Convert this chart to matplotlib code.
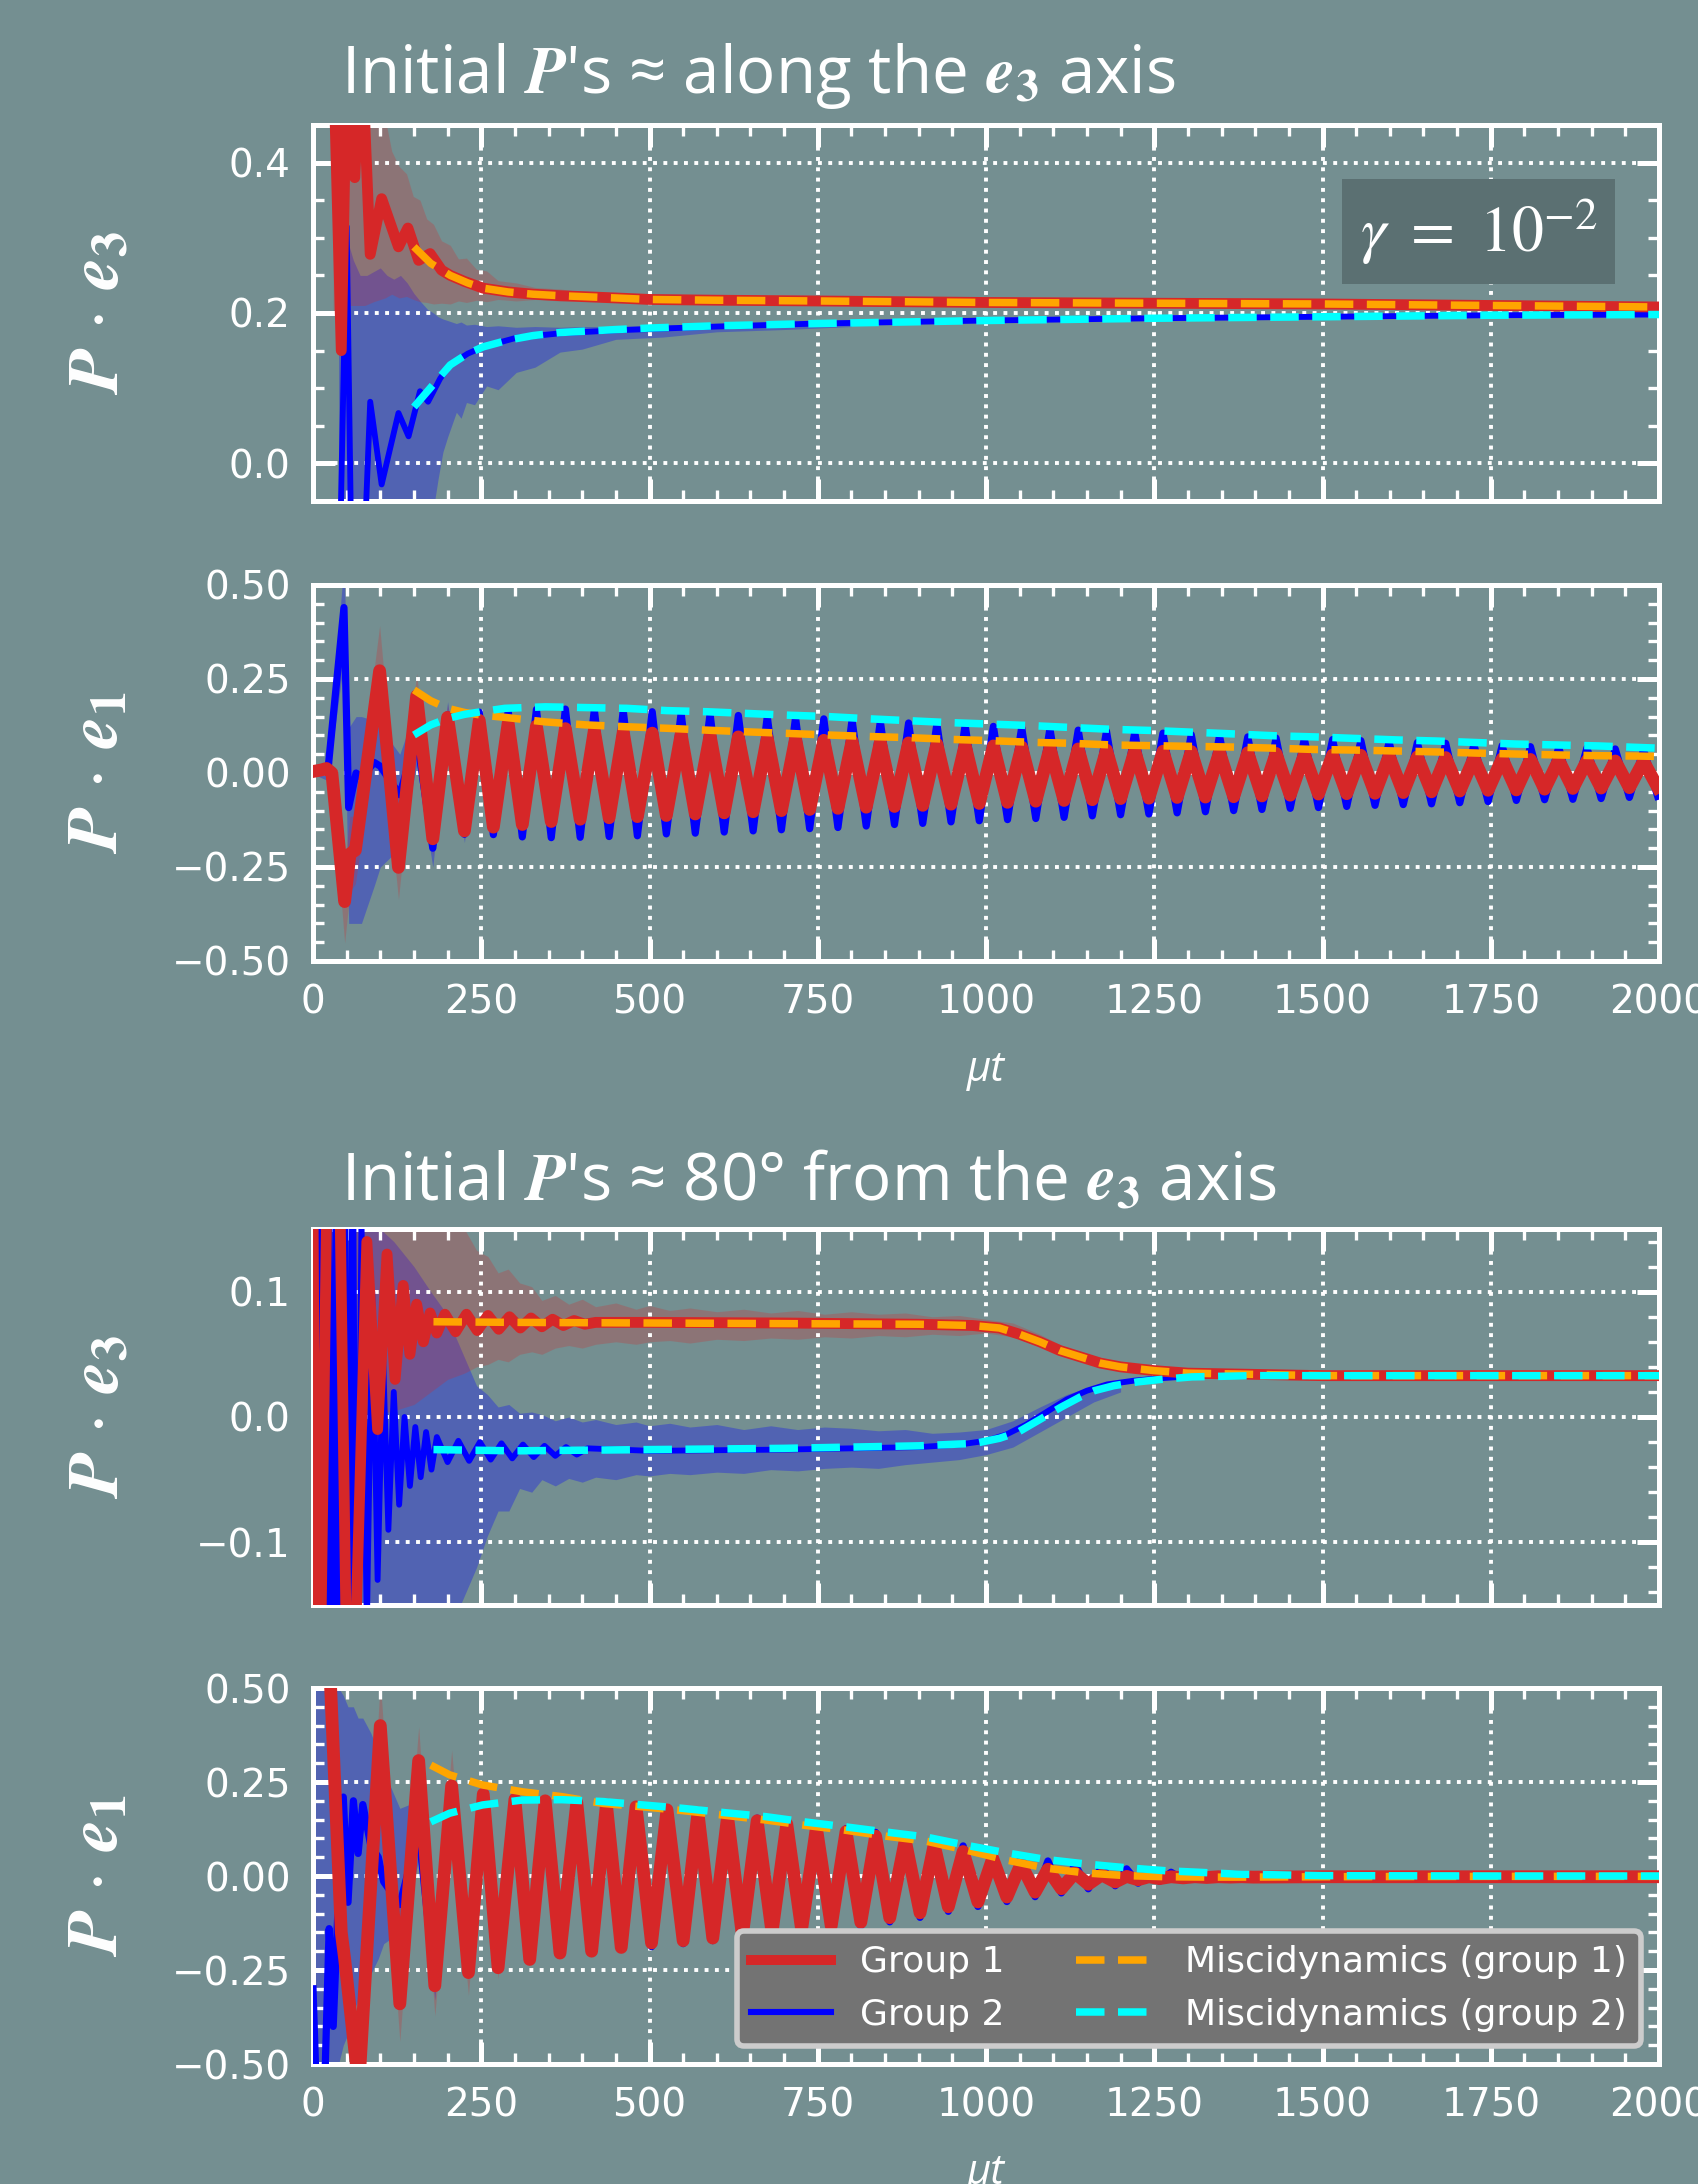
import matplotlib
matplotlib.use('Agg')
import matplotlib.pyplot as plt
import numpy as np
from matplotlib.ticker import MultipleLocator

plt.rcParams['font.family'] = 'DejaVu Sans'
plt.rcParams['mathtext.fontset'] = 'stix'

BG = '#748f91'
RED = '#d62728'
BLUE = '#0000ff'
ORANGE = '#ffa500'
CYAN = '#00ffff'

# ---------------- panel 1 : P.e3, initial P along e3 ----------------
t1_red = [28, 42, 52, 62, 72, 85, 102, 127, 141, 157, 174, 191, 204, 225, 253, 290, 327, 367,
          450, 500, 600, 750, 1000, 1250, 1500, 1750, 2000]
p1_red = [0.62, 0.15, 0.62, 0.38, 0.56, 0.278, 0.352, 0.288, 0.313, 0.27, 0.279, 0.257, 0.25,
          0.242, 0.233, 0.228, 0.225, 0.223, 0.22, 0.218, 0.217, 0.216, 0.214, 0.213, 0.212, 0.21, 0.208]
t1_blue = [40, 50, 57, 76, 85, 102, 127, 142, 159, 171, 189, 204, 230, 253, 302, 367, 450, 600,
           750, 1000, 1250, 1500, 1750, 2000]
p1_blue = [-0.12, 0.315, -0.12, -0.12, 0.082, -0.028, 0.067, 0.036, 0.096, 0.082, 0.113, 0.131,
           0.146, 0.155, 0.167, 0.173, 0.177, 0.182, 0.186, 0.19, 0.193, 0.195, 0.197, 0.198]
t1_mis = [150, 175, 204, 230, 253, 290, 327, 367, 450, 500, 600, 750, 1000, 1250, 1500, 1750, 2000]
p1_mis1 = [0.288, 0.266, 0.25, 0.24, 0.233, 0.228, 0.225, 0.223, 0.22, 0.218, 0.217, 0.216,
           0.214, 0.213, 0.212, 0.21, 0.208]
p1_mis2 = [0.075, 0.101, 0.131, 0.146, 0.155, 0.164, 0.17, 0.174, 0.178, 0.18, 0.183, 0.186,
           0.19, 0.193, 0.195, 0.197, 0.198]
t1_rband = [30, 40, 50, 62, 77, 90, 107, 117, 128, 139, 149, 159, 169, 179, 191, 204, 216, 228,
            243, 258, 275, 302, 330, 367, 400, 450, 520, 600, 700]
p1_rband_hi = [0.5, 0.5, 0.5, 0.5, 0.5, 0.48, 0.46, 0.415, 0.395, 0.385, 0.355, 0.35, 0.325, 0.318,
               0.296, 0.29, 0.272, 0.273, 0.258, 0.256, 0.243, 0.24, 0.234, 0.232, 0.228, 0.227,
               0.223, 0.221, 0.219]
p1_rband_lo = [0.2, 0.21, 0.21, 0.21, 0.21, 0.215, 0.22, 0.225, 0.22, 0.222, 0.218, 0.215, 0.214,
               0.212, 0.213, 0.212, 0.216, 0.214, 0.217, 0.215, 0.218, 0.216, 0.218, 0.216, 0.217,
               0.215, 0.214, 0.214, 0.213]
t1_bband = [38, 50, 60, 70, 80, 90, 100, 110, 120, 130, 140, 150, 160, 170, 179, 186, 193, 200,
            213, 220, 228, 240, 258, 275, 302, 330, 367, 400, 450, 520, 600, 700, 800]
p1_bband_hi = [0.3, 0.3, 0.27, 0.25, 0.25, 0.255, 0.26, 0.25, 0.245, 0.25, 0.24, 0.226, 0.215,
               0.205, 0.2, 0.195, 0.192, 0.19, 0.186, 0.188, 0.184, 0.185, 0.182, 0.183, 0.181,
               0.182, 0.181, 0.182, 0.182, 0.184, 0.186, 0.188, 0.189]
p1_bband_lo = [-0.06, -0.06, -0.06, -0.06, -0.06, -0.06, -0.06, -0.06, -0.06, -0.06, -0.06, -0.06,
               -0.06, -0.06, -0.06, -0.02, 0.015, 0.035, 0.068, 0.06, 0.081, 0.078, 0.103, 0.098,
               0.121, 0.128, 0.148, 0.152, 0.165, 0.168, 0.175, 0.178, 0.182]

# ---------------- panel 2 : P.e1, initial P along e3 ----------------
t2_red_early = [0, 12, 20, 28, 47, 55, 63, 99, 127, 154, 178, 200, 225, 247]
p2_red_early = [0.004, 0.008, 0.012, 0.0, -0.342, -0.215, -0.205, 0.272, -0.251, 0.205, -0.175,
                0.148, -0.154, 0.14]
p2_red_sd = [0.003, 0.006, 0.01, 0.03, 0.11, 0.1, 0.09, 0.12, 0.085, 0.06, 0.045, 0.035, 0.022, 0.018]
t2_blue_early = [0, 22, 46, 53, 64, 72, 91, 100, 129, 154, 178, 200, 225, 247]
p2_blue_early = [0.0, 0.004, 0.44, -0.092, 0.0, -0.012, 0.028, 0.018, -0.058, 0.10, -0.20, 0.155,
                 -0.163, 0.162]
p2_bband_lo = [-0.003, -0.02, 0.3, -0.4, -0.4, -0.4, -0.3, -0.25, -0.2, 0.02, -0.25, 0.12, -0.185, 0.15]
p2_bband_hi = [0.003, 0.03, 0.56, 0.12, 0.15, 0.15, 0.14, 0.12, 0.05, 0.18, -0.15, 0.19, -0.14, 0.175]
t2_osc = [268, 290, 311, 332, 354, 375, 397, 418, 440, 461, 482, 504, 525, 547, 568, 590, 611, 632,
          654, 675, 696, 717, 738, 759, 780, 801, 822, 843, 864, 885, 906, 927, 948, 969, 990, 1011,
          1032, 1053, 1074, 1095, 1116, 1137, 1158, 1179, 1200, 1221, 1242, 1263, 1284, 1305, 1326,
          1347, 1368, 1389, 1410, 1431, 1452, 1473, 1494, 1515, 1536, 1557, 1578, 1599, 1620, 1641,
          1662, 1683, 1704, 1725, 1746, 1767, 1788, 1809, 1830, 1851, 1872, 1893, 1914, 1935, 1956,
          1977, 1998]
p2_red_osc = [-0.144, 0.133, -0.137, 0.125, -0.129, 0.118, -0.123, 0.113, -0.119, 0.109,
              -0.116, 0.106, -0.113, 0.103, -0.109, 0.100, -0.106, 0.096, -0.103,
              0.093, -0.100, 0.091, -0.097, 0.087, -0.094, 0.085, -0.091, 0.082, -0.089,
              0.080, -0.086, 0.077, -0.083, 0.074, -0.081, 0.072, -0.078, 0.069, -0.075,
              0.066, -0.073, 0.064, -0.071, 0.061, -0.068, 0.059, -0.067, 0.058, -0.065,
              0.057, -0.064, 0.055, -0.063, 0.054, -0.061, 0.052, -0.059, 0.049, -0.056,
              0.048, -0.055, 0.047, -0.054, 0.045, -0.052, 0.043, -0.050, 0.041, -0.048,
              0.039, -0.046, 0.038, -0.045, 0.036, -0.043, 0.034, -0.041, 0.033, -0.040,
              0.032, -0.039, 0.031, -0.038]
p2_blue_osc = [-0.164, 0.166, -0.170, 0.169, -0.172, 0.170, -0.171, 0.168, -0.169, 0.166,
               -0.167, 0.163, -0.162, 0.159, -0.160, 0.157, -0.157, 0.153, -0.154,
               0.150, -0.151, 0.147, -0.148, 0.144, -0.145, 0.141, -0.141, 0.137, -0.137,
               0.133, -0.134, 0.130, -0.130, 0.127, -0.127, 0.124, -0.124, 0.121, -0.121,
               0.118, -0.118, 0.114, -0.114, 0.111, -0.111, 0.108, -0.109, 0.106, -0.106,
               0.102, -0.103, 0.099, -0.100, 0.096, -0.097, 0.093, -0.094, 0.091, -0.092,
               0.089, -0.089, 0.086, -0.086, 0.083, -0.084, 0.081, -0.082, 0.079, -0.079,
               0.076, -0.076, 0.073, -0.073, 0.070, -0.071, 0.0685, -0.070, 0.067, -0.068,
               0.064, -0.065, 0.062, -0.062]
t2_mis = [150, 175, 200, 225, 250, 285, 345, 405, 466, 525, 585, 637, 703, 766, 828, 887, 946,
          1008, 1068, 1127, 1189, 1248, 1300, 1367, 1429, 1489, 1548, 1610, 1670, 1729, 1788,
          1850, 1910, 1969, 2000]
p2_mis1 = [0.221, 0.192, 0.172, 0.161, 0.154, 0.148, 0.136, 0.128, 0.123, 0.119, 0.114, 0.110,
           0.1055, 0.101, 0.097, 0.094, 0.0895, 0.086, 0.0816, 0.079, 0.0745, 0.0727, 0.071,
           0.069, 0.066, 0.0625, 0.061, 0.0585, 0.056, 0.053, 0.0505, 0.048, 0.046, 0.045, 0.044]
p2_mis2 = [0.101, 0.128, 0.145, 0.156, 0.163, 0.172, 0.176, 0.174, 0.172, 0.166, 0.163, 0.159,
           0.154, 0.150, 0.144, 0.139, 0.134, 0.130, 0.126, 0.121, 0.116, 0.113, 0.109, 0.104,
           0.099, 0.096, 0.092, 0.088, 0.085, 0.081, 0.077, 0.0745, 0.072, 0.068, 0.066]

# ---------------- panel 3 : P.e3, initial P 80 deg from e3 ----------------
t3_red = [0, 6, 30, 54, 80, 96, 110, 122, 134, 144, 154, 164, 174, 184,
          196, 212, 228, 244, 260, 276, 292, 308, 324, 340, 356, 372, 388, 404, 420,
          500, 700, 900, 980, 1020, 1050, 1080, 1110, 1140, 1170, 1200, 1250, 1300, 1400, 1500, 2000]
p3_red = [0.174, -0.4, 0.55, -0.35, 0.14, -0.01, 0.13, 0.03, 0.105, 0.05, 0.09, 0.06, 0.083, 0.067,
          0.082, 0.068, 0.082, 0.069, 0.081, 0.07, 0.08, 0.071, 0.079, 0.072, 0.078, 0.073, 0.077,
          0.074, 0.0755,
          0.0755, 0.075, 0.074, 0.073, 0.071, 0.066, 0.06, 0.053, 0.048, 0.043, 0.04, 0.037,
          0.035, 0.034, 0.033, 0.033]
t3_blue = [0, 5, 11, 17, 23, 29, 35, 41, 47, 53, 59, 65,
           72, 80, 88, 96, 104, 112, 120, 128, 136, 144, 152, 160, 168, 176, 184,
           200, 216, 232, 248, 264, 280, 296, 312, 328, 344, 360, 376, 392, 408,
           500, 700, 900, 960, 1000, 1030, 1060, 1090, 1120, 1150, 1180, 1220, 1260, 1320, 1400,
           1500, 2000]
p3_blue = [0.17, -0.35, 0.3, -0.35, 0.3, -0.35, 0.3, -0.33, 0.28, -0.3, 0.25, -0.28,
           0.16, -0.17, 0.1, -0.13, 0.05, -0.09, 0.02, -0.07, 0.0, -0.055, -0.008, -0.048,
           -0.012, -0.042, -0.016,
           -0.036, -0.019, -0.035, -0.02, -0.034, -0.021, -0.033, -0.022, -0.032, -0.023, -0.031,
           -0.024, -0.03, -0.025,
           -0.027, -0.026, -0.024, -0.022, -0.019, -0.014, -0.006, 0.004, 0.014, 0.021, 0.026,
           0.029, 0.031, 0.033, 0.033, 0.033, 0.033]
t3_mis1 = [179, 300, 500, 700, 900, 980, 1020, 1050, 1080, 1110, 1140, 1170, 1200, 1250, 1300,
           1400, 1500, 2000]
p3_mis1 = [0.076, 0.0755, 0.075, 0.0745, 0.074, 0.073, 0.071, 0.066, 0.06, 0.053, 0.048, 0.043,
           0.04, 0.037, 0.035, 0.034, 0.033, 0.033]
t3_mis2 = [179, 300, 500, 700, 900, 984, 1020, 1048, 1080, 1112, 1140, 1161, 1190, 1225, 1260,
           1306, 1400, 1500, 2000]
p3_mis2 = [-0.026, -0.027, -0.026, -0.025, -0.023, -0.021, -0.017, -0.012, -0.002, 0.008, 0.016,
           0.021, 0.025, 0.028, 0.03, 0.032, 0.033, 0.033, 0.033]
t3_rband = [0, 40, 80, 120, 150, 175, 200, 225, 243, 260, 275, 290, 307, 325, 340, 360, 380, 400,
            420, 450, 480, 500, 530, 560, 600, 640, 680, 720, 760, 800, 840, 880, 920, 960, 1000,
            1040, 1080, 1120, 1160, 1200]
p3_rband_hi = [0.16, 0.16, 0.16, 0.16, 0.16, 0.16, 0.16, 0.15, 0.133, 0.128, 0.115, 0.118, 0.107,
               0.104, 0.093, 0.097, 0.09, 0.094, 0.088, 0.091, 0.086, 0.089, 0.085, 0.087, 0.084,
               0.086, 0.083, 0.085, 0.082, 0.084, 0.082, 0.083, 0.08, 0.081, 0.078, 0.075, 0.066,
               0.055, 0.047, 0.042]
p3_rband_lo = [-0.16, -0.1, 0.0, 0.005, 0.01, 0.02, 0.03, 0.035, 0.04, 0.042, 0.046, 0.044, 0.05,
               0.052, 0.05, 0.055, 0.057, 0.055, 0.058, 0.06, 0.058, 0.06, 0.061, 0.059, 0.062,
               0.061, 0.063, 0.062, 0.064, 0.063, 0.065, 0.064, 0.066, 0.065, 0.067, 0.064, 0.056,
               0.048, 0.041, 0.038]
t3_bband = [0, 40, 80, 120, 150, 175, 195, 211, 227, 243, 259, 275, 291, 307, 325, 340, 360, 380,
            400, 420, 450, 480, 500, 530, 560, 600, 640, 680, 720, 760, 800, 840, 880, 920, 960,
            1000, 1040, 1080, 1120, 1160, 1200]
p3_bband_hi = [0.16, 0.16, 0.16, 0.14, 0.12, 0.1, 0.085, 0.065, 0.045, 0.025, 0.018, 0.008, 0.01,
               0.003, 0.004, 0.002, -0.003, 0.0, -0.004, -0.002, -0.006, -0.004, -0.007, -0.005,
               -0.008, -0.006, -0.01, -0.007, -0.01, -0.008, -0.009, -0.011, -0.01, -0.013, -0.012,
               -0.01, -0.003, 0.008, 0.018, 0.025, 0.029]
p3_bband_lo = [-0.16, -0.16, -0.16, -0.16, -0.16, -0.16, -0.16, -0.16, -0.14, -0.12, -0.095, -0.075,
               -0.075, -0.057, -0.06, -0.05, -0.055, -0.049, -0.052, -0.048, -0.05, -0.046, -0.047,
               -0.045, -0.046, -0.044, -0.045, -0.042, -0.043, -0.041, -0.04, -0.041, -0.038,
               -0.036, -0.034, -0.03, -0.024, -0.012, 0.0, 0.012, 0.02]

# ---------------- panel 4 : P.e1, initial P 80 deg from e3 ----------------
t4_red = [0, 25, 42, 47, 68, 100, 129, 157, 181, 206, 231, 253, 275, 300, 322, 345, 367, 392, 414,
          436, 458, 480, 503, 526, 550, 572, 594, 616, 638, 660, 682, 704, 726, 748, 770, 792, 814,
          836, 857, 880, 902, 923, 944, 966, 988, 1010, 1031, 1052, 1073, 1092, 1112, 1132, 1152,
          1172, 1192, 1209, 1226, 1242, 1258, 1275, 1293, 1310, 1328, 1345, 1363, 1380, 1397,
          1500, 1750, 2000]
p4_red = [0.62, 0.55, -0.15, -0.22, -0.56, 0.40, -0.34, 0.307, -0.292, 0.24, -0.257, 0.218, -0.244,
          0.204, -0.222, 0.2, -0.205, 0.195, -0.2, 0.19, -0.19, 0.184, -0.178, 0.176, -0.172, 0.168,
          -0.165, 0.158, -0.158, 0.147, -0.15, 0.138, -0.142, 0.128, -0.133, 0.118, -0.123, 0.106,
          -0.111, 0.095, -0.098, 0.083, -0.082, 0.065, -0.069, 0.047, -0.056, 0.032, -0.043, 0.018,
          -0.034, 0.008, -0.022, 0.003, -0.016, -0.001, -0.01, -0.002, -0.007, -0.002, -0.005,
          -0.002, -0.004, -0.002, -0.003, -0.002, -0.003, -0.002, -0.002, -0.002]
p4_red_sd = [0.0, 0.05, 0.1, 0.1, 0.1, 0.12, 0.1, 0.09, 0.08, 0.095, 0.06, 0.04, 0.03, 0.02]
t4_blue_early = [0, 4, 18, 24, 30, 38, 45, 52, 60, 67, 74, 86, 97, 105, 129, 157]
p4_blue_early = [-0.30, -0.52, -0.52, -0.14, -0.40, -0.05, 0.21, -0.07, 0.20, 0.06, 0.19, 0.08,
                 0.05, -0.015, -0.076, 0.12]
p4_blue_late = [-0.29, 0.163, -0.18, 0.183, -0.19, 0.194, -0.2, 0.197, -0.2, 0.196,
                -0.2, 0.192, -0.195, 0.185, -0.188, 0.178, -0.18, 0.17, -0.172, 0.162,
                -0.166, 0.154, -0.159, 0.147, -0.151, 0.137, -0.143, 0.126, -0.133, 0.116,
                -0.122, 0.104, -0.11, 0.094, -0.094, 0.08, -0.081, 0.065, -0.068, 0.051,
                -0.055, 0.04, -0.045, 0.031, -0.034, 0.024, -0.026, 0.019, -0.019, 0.014,
                -0.014, 0.01, -0.01, 0.007, -0.007, 0.004, -0.005, 0.002, -0.004,
                -0.001, -0.001, -0.001]
t4_bband = [0, 4, 18, 24, 30, 38, 45, 52, 60, 67, 74, 86, 97, 105, 129, 157, 181, 206, 231]
p4_bband_hi = [0.5, 0.52, 0.52, 0.52, 0.5, 0.5, 0.48, 0.45, 0.45, 0.42, 0.42, 0.38, 0.33, 0.28,
               0.18, 0.2, -0.25, 0.19, -0.16]
p4_bband_lo = [-0.52, -0.52, -0.52, -0.52, -0.52, -0.5, -0.45, -0.42, -0.36, -0.33, -0.3, -0.26,
               -0.22, -0.18, -0.15, 0.04, -0.33, 0.14, -0.2]
t4_mis = [175, 203, 252, 311, 370, 431, 490, 549, 609, 672, 730, 790, 851, 910, 970, 1029, 1089,
          1148, 1208, 1267, 1327, 1372, 1500, 1750, 2000]
p4_mis1 = [0.295, 0.269, 0.242, 0.224, 0.211, 0.193, 0.184, 0.174, 0.162, 0.149, 0.135, 0.122,
           0.106, 0.093, 0.069, 0.043, 0.021, 0.008, 0.001, -0.002, -0.003, -0.003, -0.002,
           -0.001, -0.001]
p4_mis2 = [0.144, 0.167, 0.189, 0.202, 0.203, 0.198, 0.189, 0.18, 0.169, 0.158, 0.144, 0.131,
           0.117, 0.104, 0.082, 0.062, 0.044, 0.032, 0.022, 0.014, 0.009, 0.005, 0.001, 0.0, 0.0]

# ---------------- figure ----------------
W, H = 1698, 2184
fig = plt.figure(figsize=(W / 200, H / 200), dpi=200)
fig.patch.set_facecolor(BG)


def make_axes(top, bottom):
    return fig.add_axes([313 / W, 1 - bottom / H, 1346 / W, (bottom - top) / H])


def style(ax, ylim, major, minor, show_x):
    ax.set_facecolor(BG)
    ax.set_xlim(0, 2000)
    ax.set_ylim(*ylim)
    ax.xaxis.set_major_locator(MultipleLocator(250))
    ax.xaxis.set_minor_locator(MultipleLocator(50))
    ax.yaxis.set_major_locator(MultipleLocator(major))
    ax.yaxis.set_minor_locator(MultipleLocator(minor))
    ax.tick_params(which='both', direction='in', top=True, right=True, colors='white',
                   labelsize=14, pad=8, labelbottom=show_x)
    ax.tick_params(which='major', length=8, width=1.8)
    ax.tick_params(which='minor', length=4, width=1.2)
    for s in ax.spines.values():
        s.set_color('white')
        s.set_linewidth(1.8)
    ax.grid(True, which='major', color='white', linestyle=':', linewidth=1.4)


def draw(ax, tr, yr, tb, yb, tm1, m1, tm2, m2, lw_red=3.9, lw_blue=2.1):
    hb, = ax.plot(tb, yb, color=BLUE, lw=lw_blue, zorder=3)
    hr, = ax.plot(tr, yr, color=RED, lw=lw_red, zorder=4)
    ho, = ax.plot(tm1, m1, color=ORANGE, lw=2.7, ls=(0, (3.8, 1.8)), zorder=5)
    hc, = ax.plot(tm2, m2, color=CYAN, lw=2.7, ls=(0, (3.8, 1.8)), zorder=6)
    return hr, hb, ho, hc


def ylab(ax, idx):
    ax.set_ylabel(r'$\boldsymbol{P}\,\cdot\,\boldsymbol{e}_{\mathbf{%s}}$' % idx, color='white',
                  fontsize=26)
    ax.yaxis.set_label_coords(-0.134, 0.5)


ax1 = make_axes(125, 501)
ax2 = make_axes(585, 961)
ax3 = make_axes(1229, 1605)
ax4 = make_axes(1688, 2064)

style(ax1, (-0.05, 0.45), 0.2, 0.05, False)
style(ax2, (-0.5, 0.5), 0.25, 0.05, True)
style(ax3, (-0.15, 0.15), 0.1, 0.02, False)
style(ax4, (-0.5, 0.5), 0.25, 0.05, True)

# panel 1
ax1.fill_between(t1_bband, p1_bband_lo, p1_bband_hi, color=BLUE, alpha=0.3, lw=0, zorder=1)
ax1.fill_between(t1_rband, p1_rband_lo, p1_rband_hi, color=RED, alpha=0.25, lw=0, zorder=1)
draw(ax1, t1_red, p1_red, t1_blue, p1_blue, t1_mis, p1_mis1, t1_mis, p1_mis2)
ax1.text(0.866, 0.716, r'$\gamma\ =\ 10^{-2}$', transform=ax1.transAxes, ha='center', va='center',
         fontsize=23, color='white',
         bbox=dict(boxstyle='square,pad=0.27', facecolor='#5b7072', edgecolor='none'), zorder=8)

# panel 2
r2 = np.array(p2_red_early)
s2 = np.array(p2_red_sd)
ax2.fill_between(t2_blue_early, p2_bband_lo, p2_bband_hi, color=BLUE, alpha=0.3, lw=0, zorder=1)
ax2.fill_between(t2_red_early, r2 - s2, r2 + s2, color=RED, alpha=0.25, lw=0, zorder=1)
draw(ax2, t2_red_early + t2_osc, p2_red_early + p2_red_osc,
     t2_blue_early + t2_osc, p2_blue_early + p2_blue_osc,
     t2_mis, p2_mis1, t2_mis, p2_mis2, lw_red=4.6, lw_blue=2.6)

# panel 3
ax3.fill_between(t3_bband, p3_bband_lo, p3_bband_hi, color=BLUE, alpha=0.3, lw=0, zorder=1)
ax3.fill_between(t3_rband, p3_rband_lo, p3_rband_hi, color=RED, alpha=0.25, lw=0, zorder=1)
draw(ax3, t3_red, p3_red, t3_blue, p3_blue, t3_mis1, p3_mis1, t3_mis2, p3_mis2)

# panel 4
r4 = np.array(p4_red[:len(p4_red_sd)])
s4 = np.array(p4_red_sd)
ax4.fill_between(t4_bband, p4_bband_lo, p4_bband_hi, color=BLUE, alpha=0.3, lw=0, zorder=1)
ax4.fill_between(t4_red[:len(p4_red_sd)], r4 - s4, r4 + s4, color=RED, alpha=0.25, lw=0, zorder=1)
handles = draw(ax4, t4_red, p4_red, t4_blue_early + t4_red[8:], p4_blue_early + p4_blue_late,
               t4_mis, p4_mis1, t4_mis, p4_mis2, lw_red=4.6, lw_blue=2.6)
leg = ax4.legend(handles, ['Group 1', 'Group 2', 'Miscidynamics (group 1)', 'Miscidynamics (group 2)'],
                 loc='lower right', ncol=2, fontsize=13, facecolor='#737373', edgecolor='#cccccc',
                 framealpha=1, labelcolor='white', handlelength=2.2)
leg.get_frame().set_linewidth(2)
leg.set_zorder(10)
for line in leg.get_lines()[:2]:
    line.set_linewidth(3.6 if line.get_color() == RED else 2.2)

for ax, idx in ((ax1, '3'), (ax2, '1'), (ax3, '3'), (ax4, '1')):
    ylab(ax, idx)

for ax in (ax2, ax4):
    ax.set_xlabel('μt', color='white', fontsize=15, fontstyle='italic', family='Open Sans')
    ax.xaxis.set_label_coords(0.5, -0.235)

fig.text(341 / W, 1 - 93 / H, r"Initial $\boldsymbol{P}$'s ≈ along the $\boldsymbol{e}_{\mathbf{3}}$ axis",
         color='white', fontsize=23.6, family='Open Sans', va='baseline', ha='left')
fig.text(341 / W, 1 - 1200 / H, r"Initial $\boldsymbol{P}$'s ≈ 80° from the $\boldsymbol{e}_{\mathbf{3}}$ axis",
         color='white', fontsize=23.6, family='Open Sans', va='baseline', ha='left')

fig.savefig('out.png', dpi=200, facecolor=BG)
